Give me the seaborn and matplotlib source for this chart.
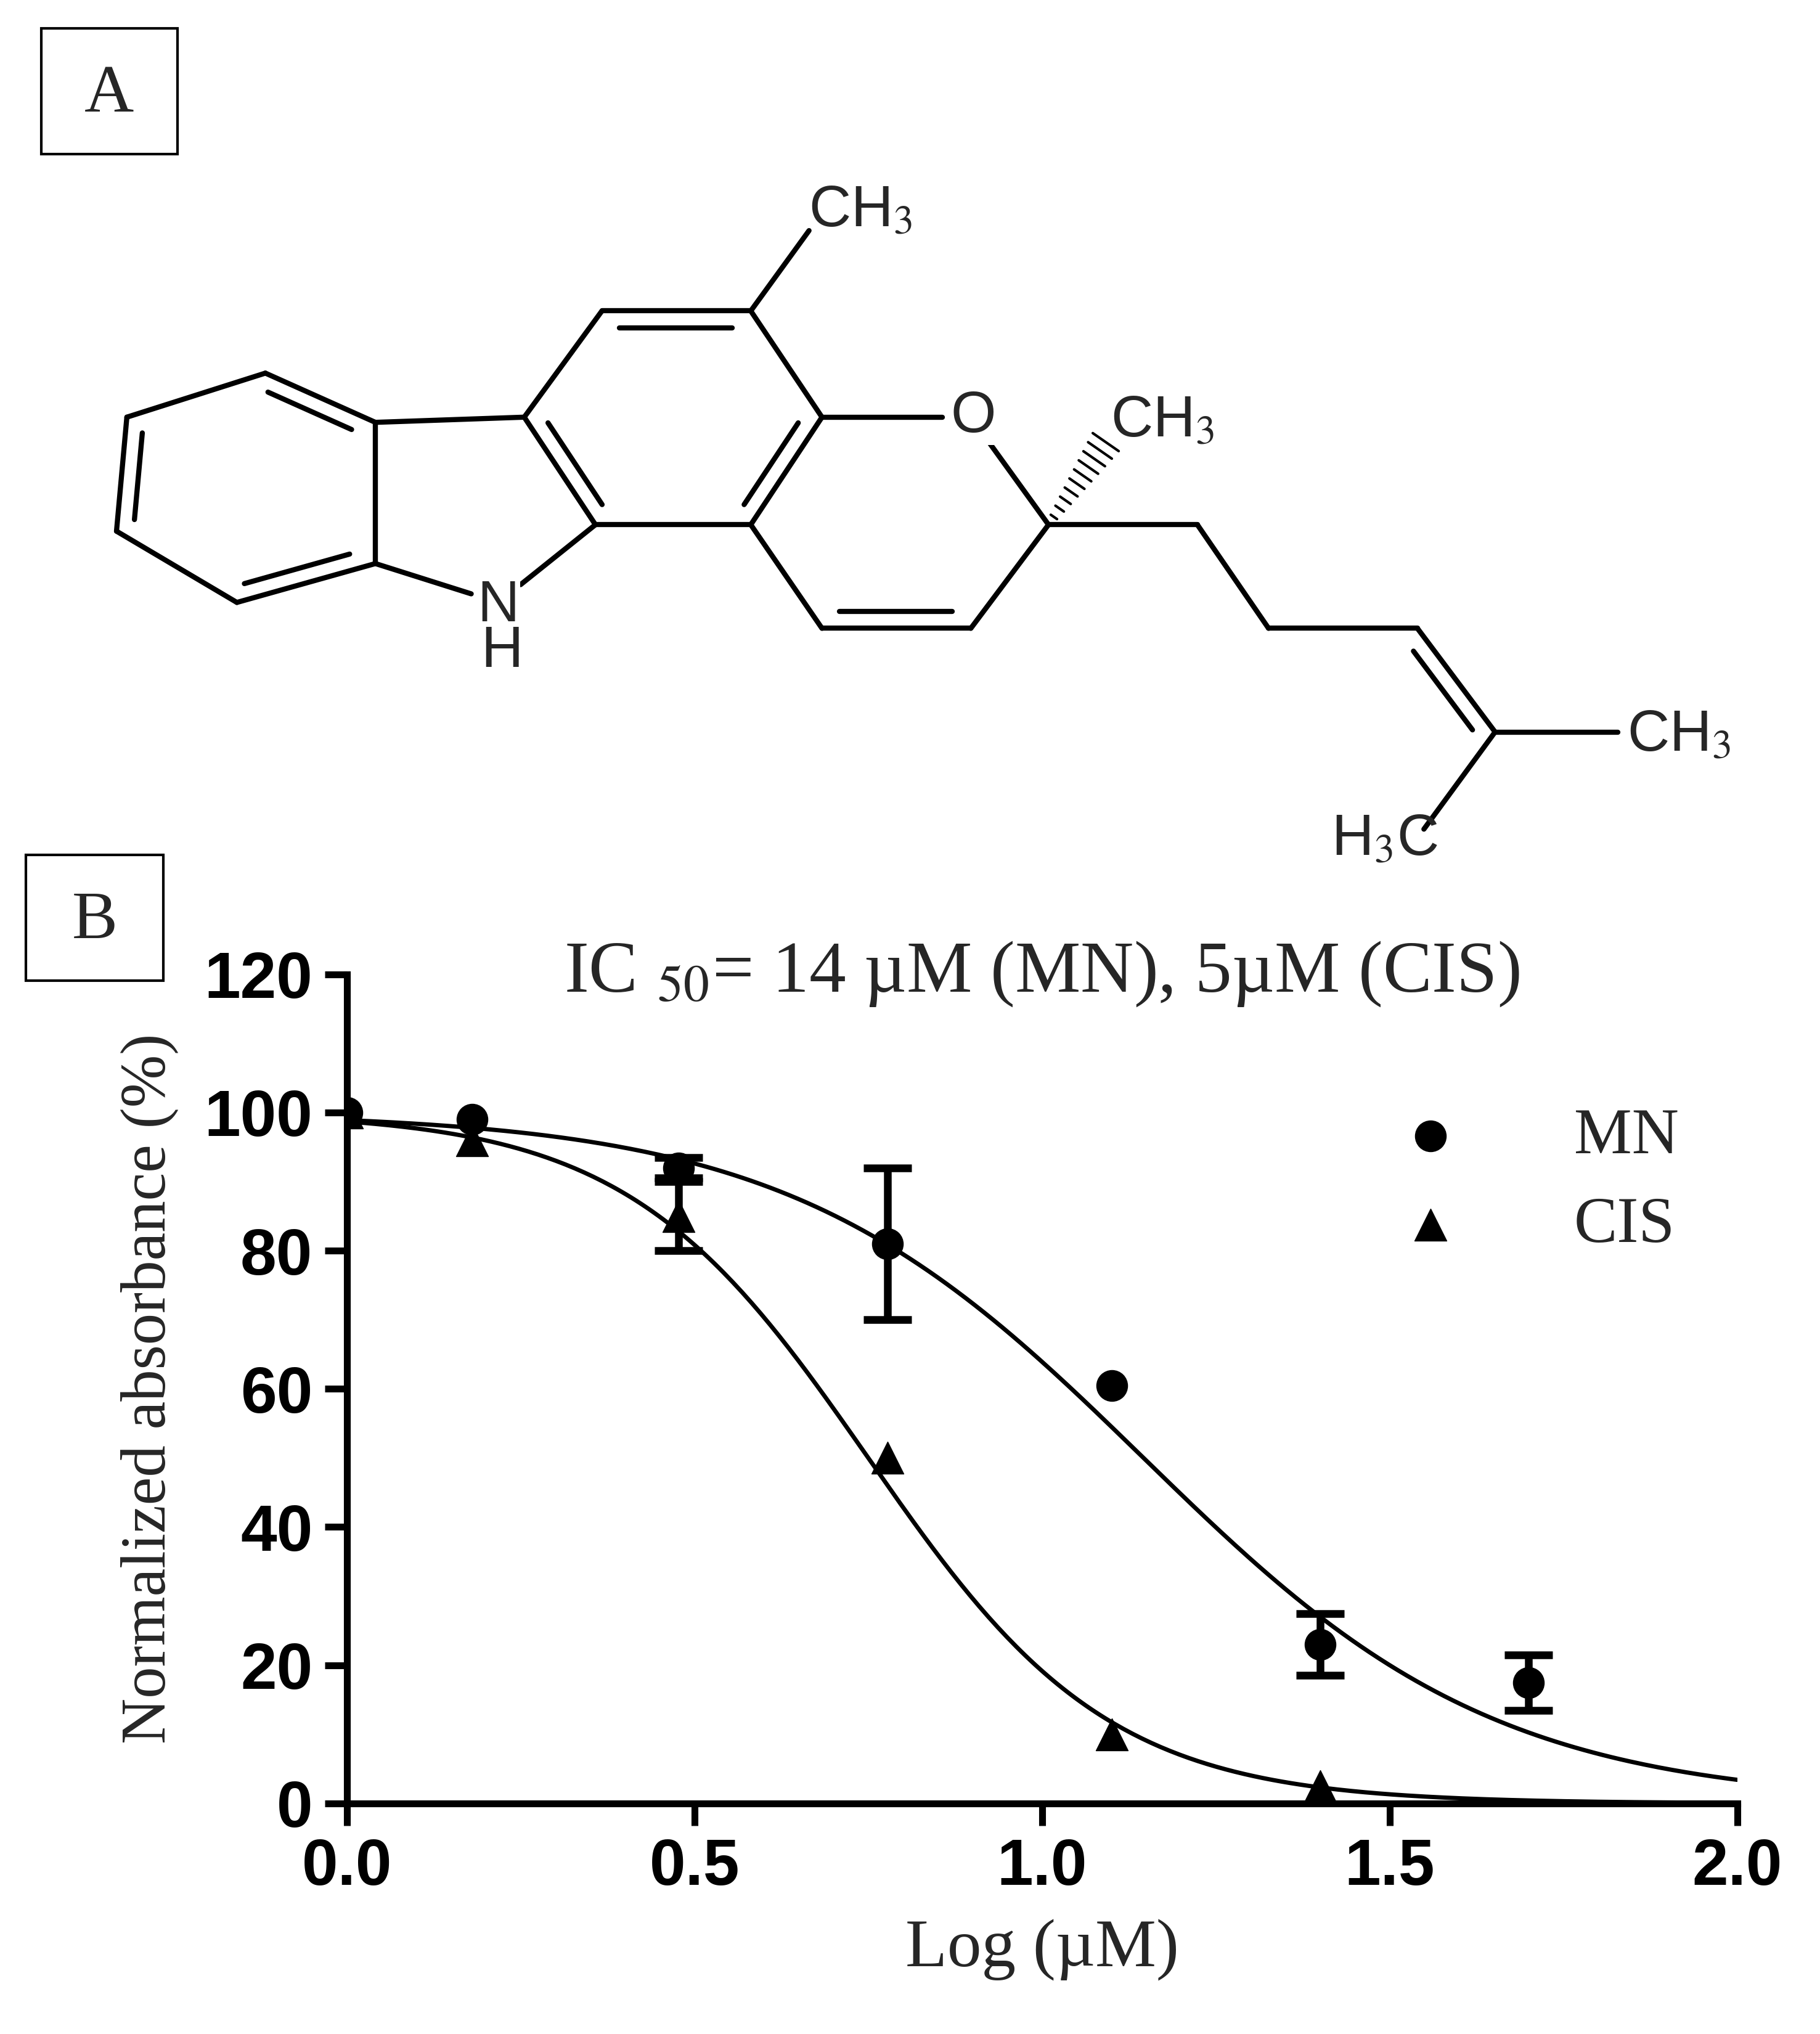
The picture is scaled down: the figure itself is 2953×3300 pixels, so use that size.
import numpy as np
import pandas as pd
import matplotlib
matplotlib.use('Agg')
import matplotlib.pyplot as plt
import seaborn as sns

sns.set_style('ticks')
plt.rcParams['font.family'] = ['Liberation Sans', 'DejaVu Sans']
plt.rcParams['mathtext.fontset'] = 'stix'

# dose-response data (log uM vs normalized absorbance %)
log_dose = [0.0, 0.18, 0.477, 0.778, 1.10, 1.40, 1.70]
mn_mean = [100, 99, 92, 81, 60.5, 23, 17.5]
mn_err = [0, 0, 1.5, 11, 0, 4.5, 4]
cis_mean = [100, 96, 85, 50, 10, 2.5]
cis_err = [0, 0, 5, 0, 0, 0]
# fitted 4PL parameters
mn_logic50, mn_hill = 1.146, 1.7
cis_logic50, cis_hill = 0.75, 2.5

# structure skeleton, picture pixel coords (y down)
atoms = {
    'b1': (205, 288), 'b2': (290, 326), 'b3': (290, 435), 'b4': (183, 465),
    'b5': (90, 410), 'b6': (98, 322), 'p1': (405, 322), 'p2': (460, 405),
    'N': (385, 465), 'm1': (465, 240), 'm2': (580, 240), 'm3': (635, 322),
    'm4': (580, 405), 'me1': (625, 178), 'O': (750, 322), 'q': (810, 405),
    'r1': (750, 485), 'r2': (635, 485), 'me2': (862, 330), 'c1': (925, 405),
    'c2': (980, 485), 'c3': (1095, 485), 'c4': (1155, 565), 'me3': (1250, 565),
    'me4': (1100, 640),
}
single_bonds = [('b1', 'b2'), ('b2', 'b3'), ('b3', 'b4'), ('b4', 'b5'), ('b5', 'b6'),
                ('b6', 'b1'), ('b2', 'p1'), ('p1', 'p2'), ('p2', 'N'), ('N', 'b3'),
                ('p1', 'm1'), ('m1', 'm2'), ('m2', 'm3'), ('m3', 'm4'), ('m4', 'p2'),
                ('m2', 'me1'), ('m3', 'O'), ('O', 'q'), ('q', 'r1'), ('r1', 'r2'),
                ('r2', 'm4'), ('q', 'c1'), ('c1', 'c2'), ('c2', 'c3'), ('c3', 'c4'),
                ('c4', 'me3'), ('c4', 'me4')]
inner_bonds = [('b6', 'b5'), ('b1', 'b2'), ('b4', 'b3'), ('m1', 'm2'), ('p1', 'p2'),
               ('m4', 'm3'), ('r2', 'r1'), ('c3', 'c4')]
ring_centres = {('b6', 'b5'): (190, 378), ('b1', 'b2'): (190, 378), ('b4', 'b3'): (190, 378),
                ('m1', 'm2'): (520, 322), ('p1', 'p2'): (520, 322), ('m4', 'm3'): (520, 322),
                ('r2', 'r1'): (690, 405), ('c3', 'c4'): (1080, 560)}
labels = [('CH$_3$', 665, 163), ('O', 752, 322), ('CH$_3$', 898, 325), ('N', 385, 468),
          ('H', 388, 503), ('CH$_3$', 1297, 568), ('H$_3$C', 1070, 648)]

fig = plt.figure(figsize=(29.53, 33.0), dpi=100)
bg = fig.add_axes([0, 0, 1, 1])
bg.set_xlim(0, 1406)
bg.set_ylim(1570, 0)
bg.axis('off')

lw_bond = 6
for a, b in single_bonds:
    (x1, y1), (x2, y2) = atoms[a], atoms[b]
    pts = np.array([[x1, y1], [x2, y2]], float)
    for i, name in enumerate((a, b)):
        if name in ('O', 'N'):
            other = pts[1 - i]
            d = other - pts[i]
            pts[i] = pts[i] + d / np.linalg.norm(d) * 22
    bg.plot(pts[:, 0], pts[:, 1], color='black', lw=lw_bond, solid_capstyle='round')
for a, b in inner_bonds:
    p1, p2 = np.array(atoms[a], float), np.array(atoms[b], float)
    c = np.array(ring_centres[(a, b)], float)
    mid = (p1 + p2) / 2
    off = (c - mid) / np.linalg.norm(c - mid) * 13
    d = (p2 - p1)
    q1 = p1 + d * 0.12 + off
    q2 = p2 - d * 0.12 + off
    bg.plot([q1[0], q2[0]], [q1[1], q2[1]], color='black', lw=lw_bond)
# hashed wedge to methyl
q = np.array(atoms['q'], float)
e = np.array(atoms['me2'], float)
d = e - q
n = np.array([-d[1], d[0]]) / np.linalg.norm(d)
for t in np.linspace(0.08, 0.85, 10):
    p = q + d * t
    w = 2 + 12 * t
    bg.plot([p[0] - n[0] * w, p[0] + n[0] * w], [p[1] - n[1] * w, p[1] + n[1] * w],
            color='black', lw=3)
for txt, x, y in labels:
    bg.text(x, y, txt, ha='center', va='center', fontsize=68,
            bbox=dict(facecolor='white', edgecolor='none', pad=1) if txt in ('O', 'N') else None)

# panel boxes
for letter, x0, y0, w, h in [('A', 32, 22, 105, 97), ('B', 20, 660, 106, 97)]:
    bg.add_patch(plt.Rectangle((x0, y0), w, h, fill=False, lw=3, color='black'))
    bg.text(x0 + w / 2, y0 + h / 2 + 3, letter, ha='center', va='center', fontsize=80,
            family='Liberation Serif')

# panel B
ax = fig.add_axes([268 / 1406, 1 - 1392 / 1570, (1342 - 268) / 1406, (1392 - 752) / 1570])
xs = np.linspace(0, 2, 300)
curves = pd.DataFrame({
    'x': np.concatenate([xs, xs]),
    'y': np.concatenate([100 / (1 + 10 ** ((xs - mn_logic50) * mn_hill)),
                         100 / (1 + 10 ** ((xs - cis_logic50) * cis_hill))]),
    'drug': ['MN'] * len(xs) + ['CIS'] * len(xs),
})
sns.lineplot(data=curves, x='x', y='y', units='drug', estimator=None, color='black',
             lw=5, ax=ax, legend=False)
for xv, yv, ev in list(zip(log_dose, mn_mean, mn_err)) + list(zip(log_dose, cis_mean, cis_err)):
    if ev > 0:
        ax.errorbar([xv], [yv], yerr=[ev], fmt='none', ecolor='black', elinewidth=9,
                    capsize=28, capthick=9)
ax.scatter(log_dose, mn_mean, marker='o', s=1300, color='black', label='MN', zorder=5)
ax.scatter(log_dose[:6], cis_mean, marker='^', s=1400, color='black', label='CIS', zorder=5)

ax.set_xlim(0, 2.0)
ax.set_ylim(0, 120)
ax.set_xticks([0, 0.5, 1.0, 1.5, 2.0])
ax.set_yticks([0, 20, 40, 60, 80, 100, 120])
ax.set_xticklabels(['0.0', '0.5', '1.0', '1.5', '2.0'])
sns.despine(ax=ax)
for s in ('left', 'bottom'):
    ax.spines[s].set_linewidth(8)
    ax.spines[s].set_color('black')
ax.tick_params(width=8, length=26, labelsize=76, pad=14, colors='black')
for lab in ax.get_xticklabels() + ax.get_yticklabels():
    lab.set_fontweight('bold')
ax.set_xlabel('Log (µM)', family='Liberation Serif', fontsize=80, labelpad=24)
ax.set_ylabel('Normalized absorbance (%)', family='Liberation Serif', fontsize=74, labelpad=30)
ax.text(0.5, 1.0, 'IC $_{50}$= 14 µM (MN), 5µM (CIS)', transform=ax.transAxes, ha='center',
        va='center', fontsize=86, family='Liberation Serif')
leg = ax.legend(loc='upper right', bbox_to_anchor=(1.0, 0.91), frameon=False,
                prop={'family': 'Liberation Serif', 'size': 76}, handletextpad=1.2,
                labelspacing=0.45)
fig.patch.set_facecolor('white')
fig.savefig('out.png', dpi=100, facecolor='white')
